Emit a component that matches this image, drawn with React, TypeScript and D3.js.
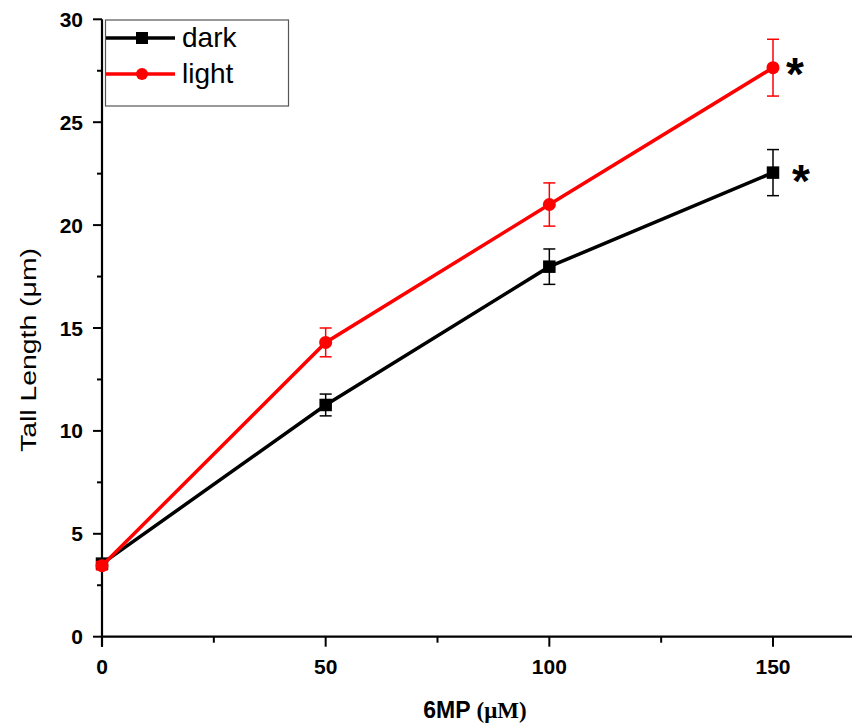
import React from 'react';
import * as d3 from 'd3';

const width = 852;
const height = 726;

// 6MP concentrations (µM)
const doses = [0, 50, 100, 150];
const darkMeans = [3.55, 11.26, 17.98, 22.55];
const darkErrors = [0.15, 0.53, 0.86, 1.12];
const lightMeans = [3.45, 14.3, 21.0, 27.65];
const lightErrors = [0.2, 0.7, 1.05, 1.38];

const xMajorTicks = [0, 50, 100, 150];
const xMinorTicks = [25, 75, 125];
const yMajorTicks = [0, 5, 10, 15, 20, 25, 30];
const yMinorTicks = [2.5, 7.5, 12.5, 17.5, 22.5, 27.5];

const series = [
  { name: 'dark', color: '#000000', marker: 'square', means: darkMeans, errors: darkErrors },
  { name: 'light', color: '#ff0000', marker: 'circle', means: lightMeans, errors: lightErrors },
];

const x = d3.scaleLinear().domain([0, 170]).range([102, 102 + (170 * 671) / 150]);
const y = d3.scaleLinear().domain([0, 30]).range([636.7, 19.3]);

const tickFont = 'Liberation Sans, Arial, sans-serif';

function Marker({ type, cx, cy, color, size }) {
  if (type === 'square') {
    return <rect x={cx - size / 2} y={cy - size / 2} width={size} height={size} fill={color} />;
  }
  return <circle cx={cx} cy={cy} r={size / 2} fill={color} />;
}

export default function App() {
  const line = d3.line().x(d => x(d[0])).y(d => y(d[1]));

  return (
    <svg width={width} height={height} style={{ position: 'absolute', left: 0, top: 0, background: '#fff' }}>
      {/* axes */}
      <line x1={x(0)} x2={width} y1={y(0)} y2={y(0)} stroke="#000" strokeWidth="2.2" />
      <line x1={x(0)} x2={x(0)} y1={y(30)} y2={y(0) + 10} stroke="#000" strokeWidth="2.2" />

      {yMajorTicks.map(t => (
        <g key={'ym' + t}>
          <line x1={x(0) - 9} x2={x(0)} y1={y(t)} y2={y(t)} stroke="#000" strokeWidth="2" />
          <text x={83} y={y(t)} dy="0.36em" textAnchor="end" fill="#000" fontFamily={tickFont} fontWeight="bold" fontSize="21">
            {t}
          </text>
        </g>
      ))}
      {yMinorTicks.map(t => (
        <line key={'yn' + t} x1={x(0) - 5} x2={x(0)} y1={y(t)} y2={y(t)} stroke="#000" strokeWidth="2" />
      ))}
      {xMajorTicks.map(t => (
        <g key={'xm' + t}>
          <line x1={x(t)} x2={x(t)} y1={y(0)} y2={y(0) + 10} stroke="#000" strokeWidth="2" />
          <text x={x(t)} y={674} textAnchor="middle" fill="#000" fontFamily={tickFont} fontWeight="bold" fontSize="21">
            {t}
          </text>
        </g>
      ))}
      {xMinorTicks.map(t => (
        <line key={'xn' + t} x1={x(t)} x2={x(t)} y1={y(0)} y2={y(0) + 6} stroke="#000" strokeWidth="2" />
      ))}

      {/* axis titles */}
      <text
        transform={`translate(36, 350) rotate(-90)`}
        textAnchor="middle"
        fill="#000"
        fontFamily={tickFont}
        fontSize="22"
        textLength="204"
        lengthAdjust="spacingAndGlyphs"
      >
        Tall Length (μm)
      </text>
      <text x={475} y={718} textAnchor="middle" fill="#000" fontWeight="bold" fontSize="23">
        <tspan fontFamily={tickFont}>6MP </tspan>
        <tspan fontFamily="Liberation Serif, Times New Roman, serif">(μM)</tspan>
      </text>

      {/* series */}
      {series.map(s => {
        const pts = doses.map((d, i) => [d, s.means[i]]);
        return (
          <g key={s.name}>
            <path d={line(pts)} fill="none" stroke={s.color} strokeWidth="3.5" />
            {pts.map((p, i) => (
              <g key={i}>
                <line x1={x(p[0])} x2={x(p[0])} y1={y(p[1] - s.errors[i])} y2={y(p[1] + s.errors[i])} stroke={s.color} strokeWidth="1.5" />
                <line x1={x(p[0]) - 6} x2={x(p[0]) + 6} y1={y(p[1] - s.errors[i])} y2={y(p[1] - s.errors[i])} stroke={s.color} strokeWidth="1.5" />
                <line x1={x(p[0]) - 6} x2={x(p[0]) + 6} y1={y(p[1] + s.errors[i])} y2={y(p[1] + s.errors[i])} stroke={s.color} strokeWidth="1.5" />
                <Marker type={s.marker} cx={x(p[0])} cy={y(p[1])} color={s.color} size={s.marker === 'square' ? 12.5 : 13} />
              </g>
            ))}
            <text
              x={x(150) + (s.name === 'dark' ? 19 : 13)}
              y={y(s.means[3]) + (s.name === 'dark' ? 24 : 22)}
              fill="#000"
              fontFamily={tickFont}
              fontWeight="bold"
              fontSize="46"
            >
              *
            </text>
          </g>
        );
      })}

      {/* legend */}
      <rect x={105.5} y={20} width={183} height={86} fill="#fff" stroke="#555" strokeWidth="1.2" />
      {series.map((s, i) => {
        const ly = 38 + i * 36;
        return (
          <g key={'lg' + s.name}>
            <line x1={106} x2={175} y1={ly} y2={ly} stroke={s.color} strokeWidth="3.5" />
            <Marker type={s.marker} cx={142} cy={ly} color={s.color} size={12} />
            <text x={182} y={ly + 9} fill="#000" fontFamily={tickFont} fontSize="28">
              {s.name}
            </text>
          </g>
        );
      })}
    </svg>
  );
}
